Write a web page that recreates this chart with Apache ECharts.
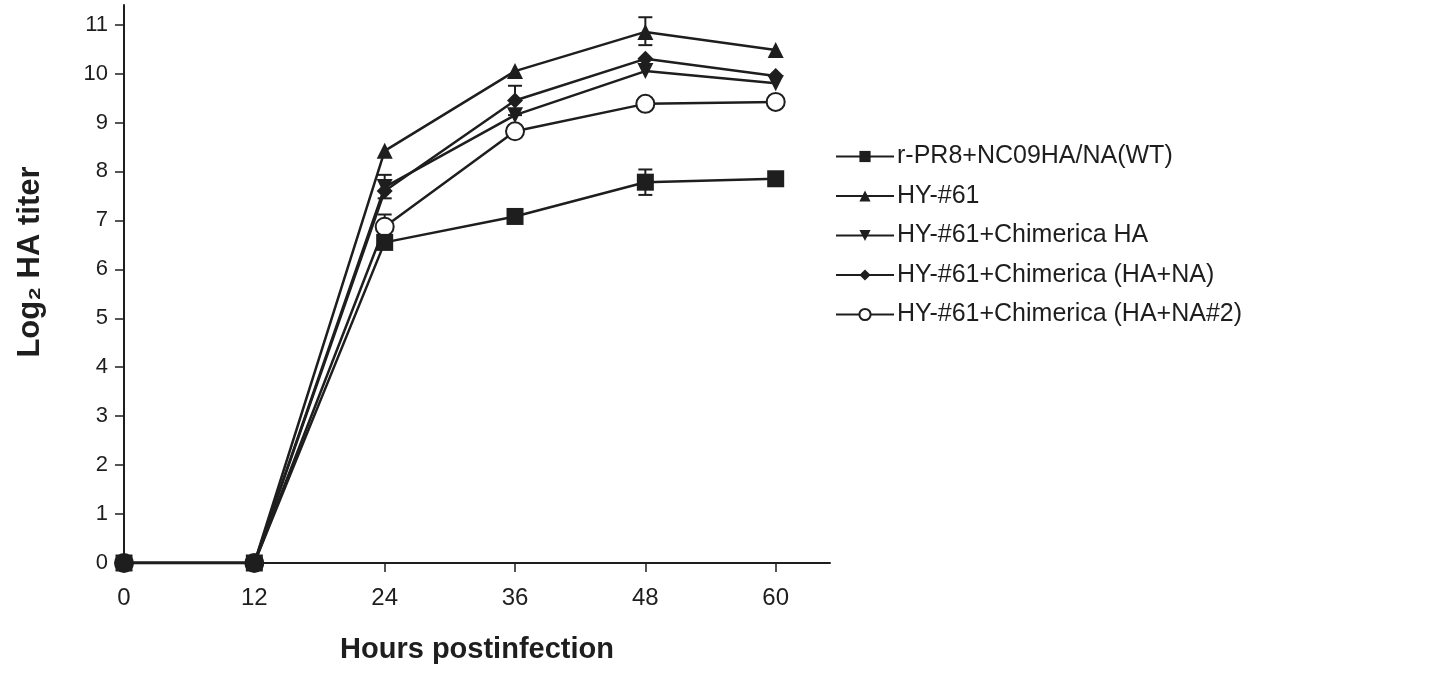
<!DOCTYPE html>
<html>
<head>
<meta charset="utf-8">
<script src="https://cdn.jsdelivr.net/npm/echarts@6/dist/echarts.min.js"></script>
<style>
  html, body { margin: 0; padding: 0; background: #fff; }
  #chart { width: 1448px; height: 678px; }
</style>
</head>
<body>
<div id="chart"></div>
<script>
const hours = [0, 12, 24, 36, 48, 60];
const xTicks = [0, 12, 24, 36, 48, 60];
const yTicks = [0, 1, 2, 3, 4, 5, 6, 7, 8, 9, 10, 11];

const seriesNames = [
  'r-PR8+NC09HA/NA(WT)',
  'HY-#61',
  'HY-#61+Chimerica HA',
  'HY-#61+Chimerica (HA+NA)',
  'HY-#61+Chimerica (HA+NA#2)'
];
const wt = [0, 0, 6.55, 7.08, 7.78, 7.85];
const hy61 = [0, 0, 8.42, 10.05, 10.85, 10.48];
const chimHA = [0, 0, 7.68, 9.15, 10.05, 9.8];
const chimHANA = [0, 0, 7.6, 9.45, 10.3, 9.95];
const chimHANA2 = [0, 0, 6.87, 8.82, 9.38, 9.42];

// error bars: [hour, low, high]
const errorBars = [
  [48, 7.52, 8.04],
  [48, 10.58, 11.15],
  [36, 9.15, 9.75],
  [24, 7.45, 7.93],
  [24, 6.62, 7.12]
];

const ink = '#1e1e1e';
const symbols = ['rect', 'triangle', 'path://M0,0 L10,0 L5,10 Z', 'diamond', 'circle'];
const sizes = [17, 16, 16, 16, 18];
const zs = [9, 6, 5, 7, 4];
const values = [wt, hy61, chimHA, chimHANA, chimHANA2];

const chart = echarts.init(document.getElementById('chart'));

const lineSeries = values.map((vals, i) => ({
  name: seriesNames[i],
  type: 'line',
  data: hours.map((h, j) => [h, vals[j]]),
  symbol: symbols[i],
  symbolSize: sizes[i],
  showAllSymbol: true,
  lineStyle: { color: ink, width: 2.5 },
  itemStyle: {
    color: i === 4 ? '#fff' : ink,
    borderColor: ink,
    borderWidth: i === 4 ? 2 : 0
  },
  z: zs[i],
  animation: false
}));

const errSeries = {
  type: 'custom',
  data: errorBars,
  z: 2,
  silent: true,
  animation: false,
  renderItem: (params, api) => {
    const lo = api.coord([api.value(0), api.value(1)]);
    const hi = api.coord([api.value(0), api.value(2)]);
    const w = 7;
    const st = { stroke: ink, lineWidth: 2 };
    return {
      type: 'group',
      children: [
        { type: 'line', shape: { x1: lo[0], y1: lo[1], x2: hi[0], y2: hi[1] }, style: st },
        { type: 'line', shape: { x1: lo[0] - w, y1: lo[1], x2: lo[0] + w, y2: lo[1] }, style: st },
        { type: 'line', shape: { x1: hi[0] - w, y1: hi[1], x2: hi[0] + w, y2: hi[1] }, style: st }
      ]
    };
  }
};

chart.setOption({
  backgroundColor: '#fff',
  textStyle: { fontFamily: 'Liberation Sans, Arial, sans-serif', color: ink },
  grid: { left: 124, right: 618, top: 5, bottom: 115 },
  legend: {
    orient: 'vertical',
    left: 830,
    top: 139,
    itemWidth: 58,
    itemHeight: 14,
    itemGap: 14.5,
    data: seriesNames,
    textStyle: { fontSize: 25, color: ink, lineHeight: 25, padding: [0, 0, 0, -2] }
  },
  xAxis: {
    type: 'value',
    min: 0,
    max: 65,
    interval: 12,
    name: 'Hours postinfection',
    nameLocation: 'middle',
    nameGap: 72,
    nameTextStyle: { fontSize: 29, fontWeight: 'bold', color: ink },
    axisLine: { onZero: false, lineStyle: { color: ink, width: 2 } },
    axisTick: { show: true, length: 9, customValues: xTicks, lineStyle: { color: ink, width: 1.5 } },
    axisLabel: { customValues: xTicks, fontSize: 24, color: ink, margin: 23 },
    splitLine: { show: false }
  },
  yAxis: {
    type: 'value',
    min: 0,
    max: 11.4,
    interval: 1,
    name: 'Log\u2082 HA titer',
    nameLocation: 'middle',
    nameGap: 78,
    nameRotate: 90,
    nameTextStyle: { fontSize: 31, fontWeight: 'bold', color: ink, padding: [0, 0, 0, 44] },
    axisLine: { show: true, lineStyle: { color: ink, width: 2 } },
    axisTick: { show: true, inside: false, length: 9, customValues: yTicks, lineStyle: { color: ink, width: 1.5 } },
    axisLabel: { customValues: yTicks, fontSize: 22, color: ink, margin: 16 },
    splitLine: { show: false }
  },
  series: [errSeries].concat(lineSeries)
});
</script>
</body>
</html>
